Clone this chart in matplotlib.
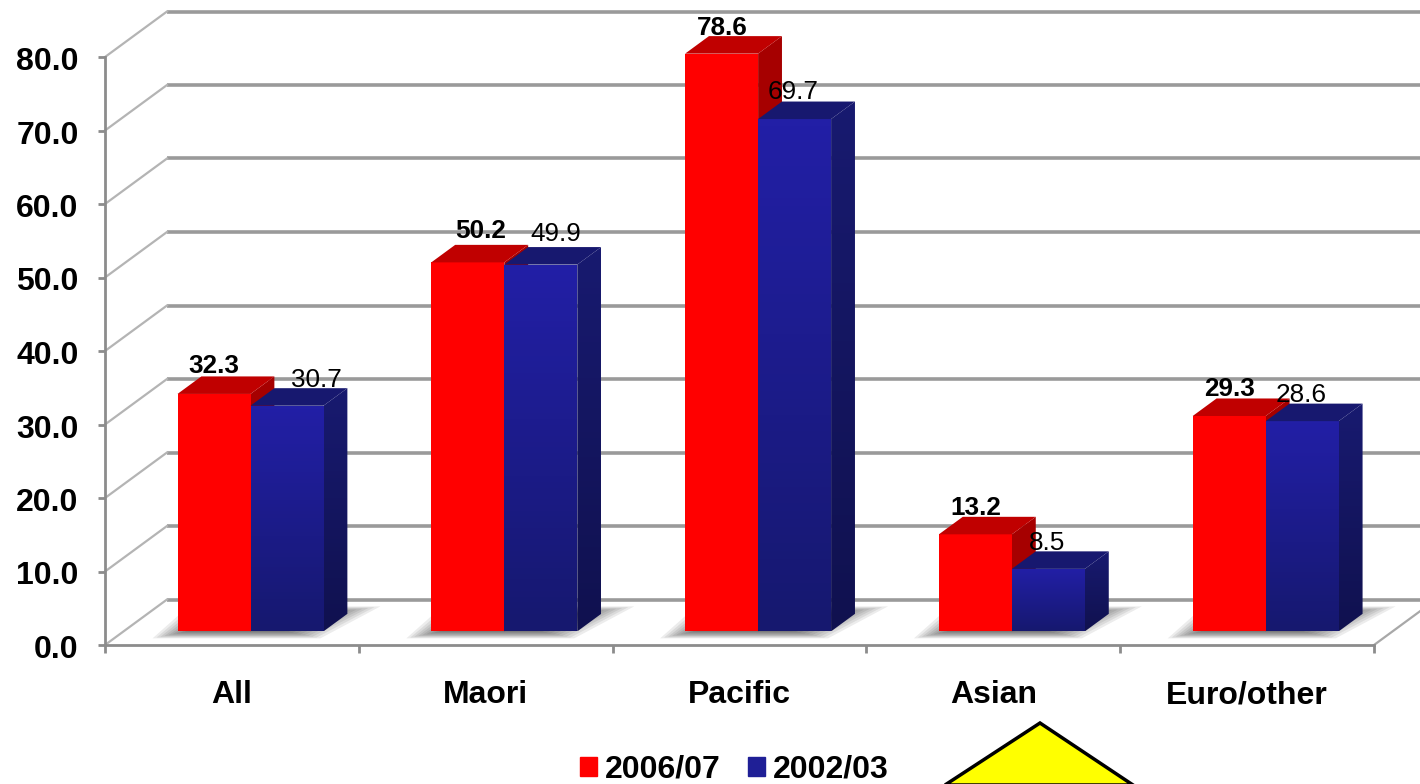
import numpy as np
import matplotlib
matplotlib.use("Agg")
import matplotlib.pyplot as plt
from matplotlib.patches import Patch, Polygon
from matplotlib.transforms import IdentityTransform, ScaledTranslation

plt.rcParams['font.family'] = ['Liberation Sans', 'DejaVu Sans']

categories = ["All", "Maori", "Pacific", "Asian", "Euro/other"]
values_2006 = [32.3, 50.2, 78.6, 13.2, 29.3]
values_2002 = [30.7, 49.9, 69.7, 8.5, 28.6]
y_ticks = [0, 10, 20, 30, 40, 50, 60, 70, 80]

W, H = 1420, 784
fig = plt.figure(figsize=(W / 100, H / 100), dpi=100)
# plot box in pixels: x 105-1374, y 57-645
ax = fig.add_axes([105 / W, 1 - 645 / H, 1269 / W, 588 / H])
ax.set_xlim(0, 5)
ax.set_ylim(0, 80)
ax.patch.set_alpha(0)

PX_X = 1 / 253.8
PX_Y = 1 / 7.35

# depth of the fake 3d box, in data units
DX = 62 * PX_X
DY = 45.5 * PX_Y
BAR_W = 73 * PX_X
BAR_Z0 = 0.30
BAR_Z1 = 0.30 + 0.385


def proj(x, y, z):
    return x + z * DX, y + z * DY


def face(pts, color, zorder):
    p = Polygon([proj(*q) for q in pts], closed=True, fc=color, ec='none', zorder=zorder, clip_on=False)
    ax.add_patch(p)
    return p


def grad_face(pts, c_top, c_bot, zorder):
    pp = np.array([proj(*q) for q in pts])
    c_top = np.array(matplotlib.colors.to_rgb(c_top))
    c_bot = np.array(matplotlib.colors.to_rgb(c_bot))
    t = np.linspace(0, 1, 64)[:, None, None]
    img = c_top * (1 - t) + c_bot * t
    im = ax.imshow(img, extent=[pp[:, 0].min(), pp[:, 0].max(), pp[:, 1].min(), pp[:, 1].max()],
                   aspect='auto', origin='upper', zorder=zorder, clip_on=True)
    poly = Polygon(pp, closed=True, transform=ax.transData, fc='none', ec='none')
    ax.add_patch(poly)
    im.set_clip_path(poly)


def bar3d(x0, x1, v, front, side, top, zorder):
    z0, z1 = BAR_Z0, BAR_Z1
    if isinstance(side, tuple):
        grad_face([(x1, 0, z0), (x1, 0, z1), (x1, v, z1), (x1, v, z0)], side[0], side[1], zorder)
        grad_face([(x0, 0, z0), (x1, 0, z0), (x1, v, z0), (x0, v, z0)], front[0], front[1], zorder + 0.1)
    else:
        face([(x1, 0, z0), (x1, 0, z1), (x1, v, z1), (x1, v, z0)], side, zorder)
        face([(x0, 0, z0), (x1, 0, z0), (x1, v, z0), (x0, v, z0)], front, zorder + 0.1)
    face([(x0, v, z0), (x1, v, z0), (x1, v, z1), (x0, v, z1)], top, zorder + 0.1)


# back wall and side wall gridlines
grid_c = '#9a9a9a'
for v in y_ticks:
    bx, by = proj(0, v, 1)
    ax.plot([bx, 5.3], [by, by], color=grid_c, lw=2.6, zorder=1, clip_on=False, solid_capstyle='butt')
    ax.plot([0, bx], [v, by], color='#b4b4b4', lw=1.6, zorder=1, clip_on=False)
ax.plot([5, 5 + DX], [0, DY], color='#a8a8a8', lw=1.6, zorder=1, clip_on=False)

# floor shadow under each group, nested polygons for the soft edge
for i in range(len(categories)):
    c = i + 0.5
    gx = proj(c, 0, BAR_Z0)[0]
    gy = proj(c, 0, BAR_Z0)[1]
    for k in range(10):
        ins_x, ins_y = k * 4 * PX_X, k * 0.8 * PX_Y
        bot = gy - 7 * PX_Y + ins_y
        top = gy + 25 * PX_Y - ins_y
        sh = Polygon([(gx - 98 * PX_X + ins_x, bot), (gx + 70 * PX_X - ins_x, bot),
                     (gx + 130 * PX_X - ins_x * 1.5, top), (gx - 62 * PX_X + ins_x, top)], closed=True,
                     fc='black', ec='none', alpha=0.075, zorder=1.5, clip_on=False)
        ax.add_patch(sh)

# nudges of the value labels in pixels (dx, height above the bar top)
nudge_2006 = [(0, 28), (13, 31), (1, 26), (0, 26), (0, 27)]
nudge_2002 = [(29, 26), (15, 31), (-1, 27), (-1, 26), (-1, 26)]

for i, cat in enumerate(categories):
    c = i + 0.5
    red_x0, red_x1 = c - BAR_W, c
    blue_x0, blue_x1 = c, c + BAR_W
    bar3d(red_x0, red_x1, values_2006[i], 'red', '#a60000', '#c00000', 3 + i * 0.01)
    bar3d(blue_x0, blue_x1, values_2002[i], ('#221fa6', '#16186f'), ('#181a70', '#10114f'), '#17186f', 4 + i * 0.01)

    rx, ry = proj((red_x0 + red_x1) / 2, values_2006[i], BAR_Z0)
    ax.annotate(f"{values_2006[i]:.1f}", (rx, ry), xytext=nudge_2006[i], textcoords='offset pixels',
                ha='center', va='center', fontsize=18.8, fontweight='bold', color='black', zorder=6,
                annotation_clip=False)
    bx, by = proj((blue_x0 + blue_x1) / 2, values_2002[i], BAR_Z0)
    ax.annotate(f"{values_2002[i]:.1f}", (bx, by), xytext=nudge_2002[i], textcoords='offset pixels',
                ha='center', va='center', fontsize=18.8, color='black', zorder=6, annotation_clip=False)

for s in ['top', 'right']:
    ax.spines[s].set_visible(False)
for s in ['left', 'bottom']:
    ax.spines[s].set_color('#8c8c8c')
    ax.spines[s].set_linewidth(2)
    ax.spines[s].set_zorder(2)

ax.set_yticks(y_ticks)
ax.set_yticklabels([f"{v:.1f}" for v in y_ticks], fontsize=23, fontweight='bold')
ax.tick_params(axis='y', length=5, width=2, color='#8c8c8c', pad=14)
shift = ScaledTranslation(0, -1.5 / 100, fig.dpi_scale_trans)
for lab in ax.get_yticklabels():
    lab.set_transform(lab.get_transform() + shift)
ax.set_xticks(range(len(categories) + 1))
ax.set_xticklabels([])
ax.tick_params(axis='x', which='major', length=6, width=2, color='#8c8c8c')
ax.set_xticks([i + 0.5 for i in range(len(categories))], minor=True)
ax.set_xticklabels(categories, minor=True, fontsize=23, fontweight='bold', va='baseline')
ax.tick_params(axis='x', which='minor', length=0, pad=41.8)
ax.set_xlim(0, 5)
ax.set_ylim(0, 80)

handles = [Patch(color='red', label='2006/07'), Patch(color='#1f1f96', label='2002/03')]
fig.legend(handles=handles, loc='center left', bbox_to_anchor=(580 / W, 1 - 770 / H), ncol=2, frameon=False,
           prop={'size': 23, 'weight': 'bold'}, handlelength=0.53, handleheight=0.53, handletextpad=0.25,
           columnspacing=0.85, borderpad=0, borderaxespad=0)

# yellow arrow poking up from the bottom edge
tri = Polygon([(1040, H - 723), (945, H - 784 - 1), (1133, H - 784 - 1)], closed=True, fc='#ffff00', ec='black',
              lw=2.5, transform=IdentityTransform(), zorder=8)
fig.add_artist(tri)

fig.savefig("out.png", dpi=100)
